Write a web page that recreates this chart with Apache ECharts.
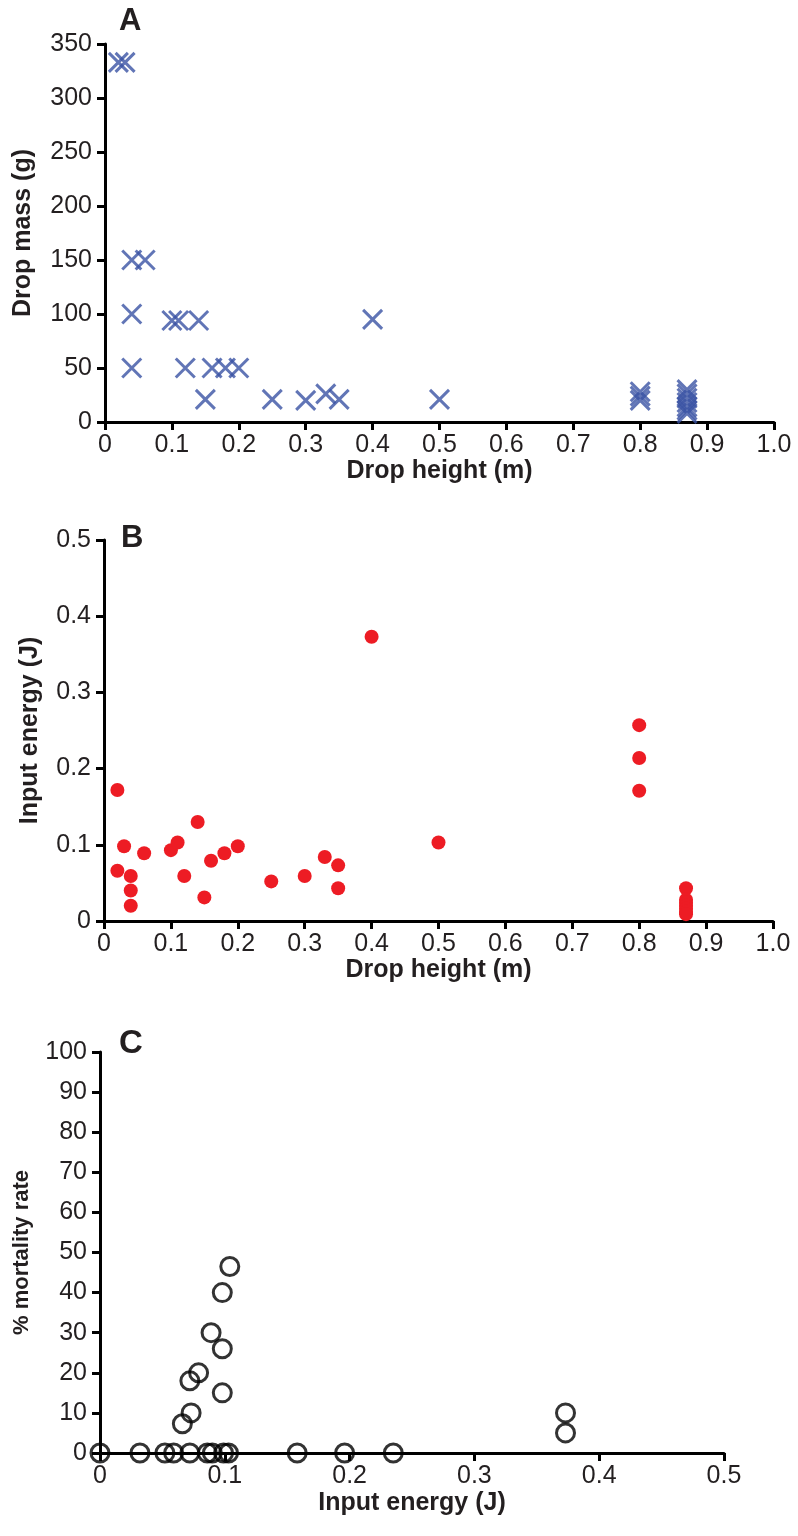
<!DOCTYPE html>
<html>
<head>
<meta charset="utf-8">
<script src="https://cdn.jsdelivr.net/npm/echarts@6/dist/echarts.min.js"></script>
<style>
html,body{margin:0;padding:0;background:#fff;}
#chart{width:798px;height:1536px;}
</style>
</head>
<body>
<div id="chart"></div>
<script>
// Panel A: drop height (m) vs drop mass (g)
const heightA = [0.02,0.03,0.04,0.06,0.04,0.04,0.10,0.11,0.14,0.12,0.16,0.18,0.20,0.15,0.25,0.30,0.33,0.35,0.40,0.50,0.80,0.80,0.80,0.87,0.87,0.87,0.87,0.87,0.87,0.87];
const massA   = [333,333,150,150,100,50,94,94,94,50,50,50,50,21,21,20,26,21,95,21,20,24,28,30,26,22,18,14,11,8];

// Panel B: drop height (m) vs input energy (J)
const heightB = [0.02,0.03,0.02,0.04,0.04,0.04,0.06,0.10,0.11,0.12,0.14,0.15,0.16,0.18,0.20,0.25,0.30,0.33,0.35,0.35,0.40,0.50,0.80,0.80,0.80,0.87,0.87,0.87,0.87,0.87,0.87,0.87];
const energyB = [0.172,0.098,0.066,0.059,0.040,0.020,0.089,0.093,0.103,0.059,0.130,0.031,0.079,0.089,0.098,0.052,0.059,0.084,0.073,0.043,0.373,0.103,0.257,0.214,0.171,0.043,0.028,0.024,0.020,0.016,0.012,0.009];

// Panel C: input energy (J) vs % mortality rate
const energyC    = [0.104,0.098,0.089,0.098,0.079,0.072,0.098,0.073,0.066,0.373,0.373,0,0.032,0.052,0.059,0.072,0.086,0.090,0.099,0.103,0.158,0.196,0.235];
const mortalityC = [46.5,40,30,26,20,18,15,10,7.3,10,5,0,0,0,0,0,0,0,0,0,0,0,0];

const panelLetters = ['A','B','C'];

const FONT = 'Liberation Sans, Arial, sans-serif';
const TXT = '#231f20';

function zip(a,b){ return a.map((v,i)=>[v,b[i]]); }

function xAx(gi, max, interval, name, gap, fmt){
  return {
    type:'value', gridIndex:gi, min:0, max:max, interval:interval,
    name:name, nameLocation:'middle', nameGap:gap,
    nameTextStyle:{fontFamily:FONT, fontWeight:'bold', fontSize:25, color:TXT},
    axisLine:{show:true, onZero:false, lineStyle:{color:'#000', width:3}},
    axisTick:{show:true, length:8, lineStyle:{color:'#000', width:3}},
    axisLabel:{fontFamily:FONT, fontSize:25, color:TXT, margin:11, formatter:fmt},
    splitLine:{show:false}
  };
}
function yAx(gi, max, interval, name, gap, fmt, nameSize){
  return {
    type:'value', gridIndex:gi, min:0, max:max, interval:interval,
    name:name, nameLocation:'middle', nameGap:gap,
    nameTextStyle:{fontFamily:FONT, fontWeight:'bold', fontSize:nameSize, color:TXT},
    axisLine:{show:true, onZero:false, lineStyle:{color:'#000', width:3}},
    axisTick:{show:true, length:8, lineStyle:{color:'#000', width:3}},
    axisLabel:{fontFamily:FONT, fontSize:25, color:TXT, margin:13, formatter:fmt},
    splitLine:{show:false}
  };
}

const chart = echarts.init(document.getElementById('chart'), null, {renderer:'canvas'});
chart.setOption({
  backgroundColor:'#fff',
  animation:false,
  title: panelLetters.map((t,i)=>({
    text:t, left:[119,121,119][i], top:[6,523,1027][i], padding:0,
    textStyle:{fontFamily:FONT, fontWeight:'bold', fontSize:[31,31,33][i], color:TXT}
  })),
  grid:[
    {left:105, top:44, width:669, height:378},
    {left:104, top:540, width:669, height:381},
    {left:100, top:1052, width:624, height:401}
  ],
  xAxis:[
    xAx(0, 1.0, 0.1, 'Drop height (m)', 37, v=>v===0?'0':v.toFixed(1)),
    xAx(1, 1.0, 0.1, 'Drop height (m)', 37, v=>v===0?'0':v.toFixed(1)),
    xAx(2, 0.5, 0.1, 'Input energy (J)', 38, v=>v===0?'0':v.toFixed(1))
  ],
  yAxis:[
    yAx(0, 350, 50, 'Drop mass (g)', 69, v=>String(v), 25),
    yAx(1, 0.5, 0.1, 'Input energy (J)', 61, v=>v===0?'0':v.toFixed(1), 25),
    yAx(2, 100, 10, '% mortality rate', 67, v=>String(v), 22)
  ],
  series:[
    {
      type:'scatter', xAxisIndex:0, yAxisIndex:0, clip:false,
      data: zip(heightA, massA),
      symbol:'path://M0,0L20,20M20,0L0,20', symbolSize:19,
      itemStyle:{color:'none', borderColor:'#3953a4', borderWidth:3}
    },
    {
      type:'scatter', xAxisIndex:1, yAxisIndex:1, clip:false,
      data: zip(heightB, energyB),
      symbol:'circle', symbolSize:14,
      itemStyle:{color:'#ed1c24', opacity:1}
    },
    {
      type:'scatter', xAxisIndex:2, yAxisIndex:2, clip:false,
      data: zip(energyC, mortalityC),
      symbol:'circle', symbolSize:18,
      itemStyle:{color:'rgba(255,255,255,0)', borderColor:'#000', borderWidth:3}
    }
  ]
});
</script>
</body>
</html>
